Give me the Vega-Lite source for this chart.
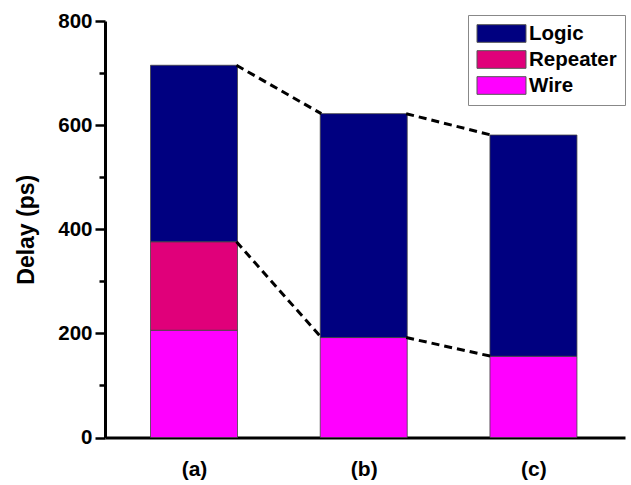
{
  "$schema": "https://vega.github.io/schema/vega-lite/v6.json",
  "width": 520,
  "height": 416.5,
  "autosize": "none",
  "padding": {"left": 105, "top": 21, "right": 6, "bottom": 47.5},
  "background": "white",
  "config": {"view": {"stroke": null}, "font": "Liberation Sans"},
  "layer": [
    {
      "data": {
        "values": [
          {"group": "(a)", "pos": 1, "component": "Wire", "delay": 206},
          {"group": "(a)", "pos": 1, "component": "Repeater", "delay": 170},
          {"group": "(a)", "pos": 1, "component": "Logic", "delay": 339},
          {"group": "(b)", "pos": 2, "component": "Wire", "delay": 192},
          {"group": "(b)", "pos": 2, "component": "Logic", "delay": 430},
          {"group": "(c)", "pos": 3, "component": "Wire", "delay": 156},
          {"group": "(c)", "pos": 3, "component": "Logic", "delay": 425}
        ]
      },
      "transform": [
        {"stack": "delay", "groupby": ["group"], "sort": [{"field": "component", "order": "descending"}], "as": ["lo", "hi"]}
      ],
      "mark": {"type": "bar", "width": 87, "stroke": "#444444", "strokeWidth": 0.8},
      "encoding": {
        "x": {
          "field": "pos", "type": "quantitative",
          "scale": {"domain": [0.505, 3.51], "nice": false, "zero": false},
          "axis": {
            "values": [1, 2, 3],
            "labelExpr": "['', '(a)', '(b)', '(c)'][datum.value]",
            "ticks": false, "grid": false, "title": null,
            "labelPadding": 21, "labelFontSize": 21, "labelFontWeight": "bold", "labelColor": "black",
            "domainColor": "black", "domainWidth": 3
          }
        },
        "y": {
          "field": "lo", "type": "quantitative",
          "scale": {"domain": [0, 800], "nice": false},
          "axis": {
            "values": [0, 100, 200, 300, 400, 500, 600, 700, 800],
            "labelExpr": "datum.value % 200 == 0 ? datum.label : ''",
            "tickSize": {"condition": {"test": "datum.value % 200 == 0", "value": 10}, "value": 6},
            "tickWidth": 2.5, "tickColor": "black",
            "grid": false, "title": "Delay (ps)",
            "titleFontSize": 23, "titleFontWeight": "bold", "titleColor": "black", "titlePadding": 19,
            "labelPadding": 3, "labelFontSize": 20.5, "labelFontWeight": "bold", "labelColor": "black",
            "domainColor": "black", "domainWidth": 3
          }
        },
        "y2": {"field": "hi"},
        "color": {
          "field": "component", "type": "nominal",
          "scale": {"domain": ["Logic", "Repeater", "Wire"], "range": ["#000080", "#E0007A", "#FF00FF"]},
          "legend": {
            "orient": "none", "legendX": 363, "legendY": -6,
            "title": null, "strokeColor": "#888888", "fillColor": "white", "padding": 8,
            "symbolType": "M-2.5,-0.9H2.5V0.9H-2.5Z", "symbolSize": 384,
            "symbolOffset": 15, "symbolStrokeColor": "#555555", "symbolStrokeWidth": 1, "symbolOpacity": 1,
            "labelFontSize": 20.5, "labelFontWeight": "bold", "labelColor": "black", "labelOffset": 17,
            "rowPadding": 3
          }
        }
      }
    },
    {
      "data": {
        "values": [
          {"x1": 1.25, "x2": 1.75, "y1": 715, "y2": 622},
          {"x1": 2.25, "x2": 2.75, "y1": 622, "y2": 581},
          {"x1": 1.25, "x2": 1.75, "y1": 376, "y2": 192},
          {"x1": 2.25, "x2": 2.75, "y1": 192, "y2": 156}
        ]
      },
      "mark": {"type": "rule", "strokeDash": [8, 5], "strokeWidth": 3, "color": "black"},
      "encoding": {
        "x": {"field": "x1", "type": "quantitative"},
        "x2": {"field": "x2"},
        "y": {"field": "y1", "type": "quantitative"},
        "y2": {"field": "y2"}
      }
    }
  ]
}
